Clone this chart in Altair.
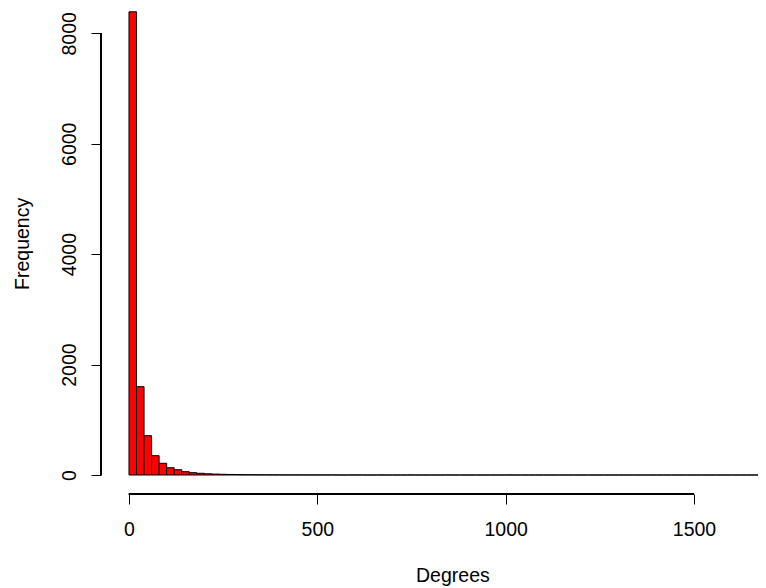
import altair as alt
import pandas as pd

# Histogram of degrees: bins of width 20 starting at 0
bin_width = 20
counts = [8390, 1600, 712, 350, 212, 132, 96, 60, 42, 31,
          22, 17, 13, 10, 8, 6, 5, 4, 3, 3,
          2, 2, 2, 1, 1, 1, 1, 1, 0, 1,
          1, 0, 0, 1, 0, 0, 0, 1, 0, 0,
          0, 0, 1, 0, 0, 0, 0, 0, 0, 0,
          1, 0, 0, 0, 0, 0, 0, 0, 0, 0,
          0, 0, 0, 0, 0, 0, 0, 0, 0, 0,
          0, 0, 0, 0, 0, 0, 0, 0, 0, 0,
          0, 0, 0, 0, 1]
x_ticks = [0, 500, 1000, 1500]
y_ticks = [0, 2000, 4000, 6000, 8000]

starts = [i * bin_width for i in range(len(counts))]
df = pd.DataFrame({
    "start": starts,
    "end": [s + bin_width for s in starts],
    "count": counts,
})

FONT = "Liberation Sans"
FS = 19.5
W, H = 657, 486

xscale = alt.Scale(domain=[-74.3, 1669.9], nice=False, zero=False)
yscale = alt.Scale(domain=[-344, 8459], nice=False, zero=False)

bars = alt.Chart(df).mark_rect(
    fill="#FF0000", stroke="#000000", strokeWidth=1, clip=True
).encode(
    x=alt.X("start:Q", scale=xscale, axis=alt.Axis(
        values=x_ticks, format="d", title="Degrees", domain=False, grid=False,
        tickSize=10, tickColor="black", tickWidth=1,
        labelFont=FONT, labelFontSize=FS, labelColor="black",
        labelBaseline="alphabetic", labelPadding=31, labelFlush=False,
        labelAlign="center",
        titleFont=FONT, titleFontSize=FS, titleFontWeight="normal",
        titleColor="black", titleBaseline="alphabetic", titleAlign="center",
        titleX=351.4, titleY=87.5,
    )),
    x2="end:Q",
    y=alt.Y("count:Q", scale=yscale, axis=alt.Axis(
        values=y_ticks, format="d", title="Frequency", domain=False, grid=False,
        tickSize=10, tickColor="black", tickWidth=1,
        labelFont=FONT, labelFontSize=FS, labelColor="black",
        labelAngle=270, labelAlign="center", labelBaseline="alphabetic",
        labelPadding=16,
        titleFont=FONT, titleFontSize=FS, titleFontWeight="normal",
        titleColor="black", titleAngle=270, titleBaseline="alphabetic",
        titleAlign="center", titleX=-73, titleY=235.4,
    )),
    y2=alt.datum(0),
)

yaxis_line = alt.Chart(df).mark_rule(color="black", strokeWidth=1).encode(
    x=alt.value(0),
    y=alt.datum(y_ticks[0]),
    y2=alt.datum(y_ticks[-1]),
)

xaxis_line = alt.Chart(df).mark_rule(color="black", strokeWidth=1).encode(
    y=alt.value(H),
    x=alt.datum(x_ticks[0]),
    x2=alt.datum(x_ticks[-1]),
)

chart = alt.layer(bars, yaxis_line, xaxis_line).properties(
    width=W, height=H,
    autosize=alt.AutoSizeParams(type="none"),
    padding={"left": 93, "top": 0, "right": 0, "bottom": 94},
    background="white",
).configure_view(stroke=None)

chart.save("out.html", embed_options={"renderer": "svg", "actions": False})
